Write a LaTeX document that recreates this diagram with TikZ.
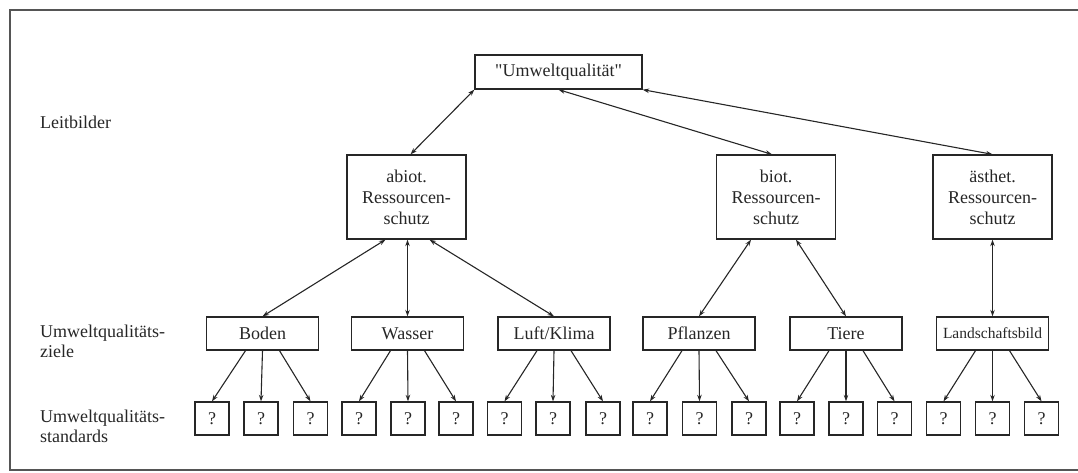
\documentclass[tikz,border=0pt]{standalone}
\usepackage{fontspec}
\setmainfont{Liberation Serif}[Ligatures=TeXOff]
\usetikzlibrary{arrows.meta}
\definecolor{ink}{HTML}{262626}
\definecolor{framegray}{HTML}{555555}

\begin{document}
\begin{tikzpicture}[x=1pt,y=-1pt,
  box/.style={draw=ink, line width=1.3pt, text=ink, inner sep=0pt, align=center,
              font=\fontsize{18}{21}\selectfont},
  topbox/.style={box, minimum width=167pt, minimum height=34pt},
  areabox/.style={box, minimum width=119pt, minimum height=84pt},
  goalbox/.style={box, minimum width=112pt, minimum height=33pt},
  qbox/.style={box, minimum width=34pt, minimum height=33pt},
  levellabel/.style={anchor=west, align=left, text=ink, inner sep=0pt,
                     font=\fontsize{18}{20}\selectfont},
  tip/.tip={Stealth[length=6.5pt,width=4.5pt]},
  link/.style={draw=ink, line width=1.1pt, tip-tip},
  down/.style={draw=ink, line width=1.1pt, -tip},
]
\useasboundingbox (0,0) rectangle (1078,472);

% outer frame (open on the right)
\draw[framegray, line width=1.2pt] (1078,10) -- (10,10) -- (10,470) -- (1078,470);

% row labels
\node[levellabel] (lbl1) at (40,122) {Leitbilder};
\node[levellabel] (lbl2) at (40,341) {Umweltqualitäts-\\ziele};
\node[levellabel] (lbl3) at (40,426) {Umweltqualitäts-\\standards};

% top level
\node[topbox] (uq) at (558.5,72) {"Umweltqualität"};

% protection areas
\node[areabox] (abiot) at (406.5,197) {abiot.\\Ressourcen-\\schutz};
\node[areabox] (biot)  at (776,197)   {biot.\\Ressourcen-\\schutz};
\node[areabox] (aesth) at (992.5,197) {ästhet.\\Ressourcen-\\schutz};

% quality goals
\node[goalbox] (boden)    at (262.5,333.5) {Boden};
\node[goalbox] (wasser)   at (407.5,333.5) {Wasser};
\node[goalbox] (luft)     at (554,333.5)   {Luft/Klima};
\node[goalbox] (pflanzen) at (699,333.5)   {Pflanzen};
\node[goalbox] (tiere)    at (846,333.5)   {Tiere};
\node[goalbox, font=\fontsize{15.5}{18}\selectfont] (land) at (992.5,333.5) {Landschaftsbild};

% quality standards (three per goal)
\foreach \g/\xa/\xb/\xc in {boden/212/261/310.5, wasser/359/408/456,
                            luft/504.5/553/603, pflanzen/650/699.5/749,
                            tiere/797/846/894.5, land/943.5/992.5/1041.5}{
  \node[qbox] (\g-l) at (\xa,418.5) {?};
  \node[qbox] (\g-m) at (\xb,418.5) {?};
  \node[qbox] (\g-r) at (\xc,418.5) {?};
  \draw[down] ([xshift=-17pt]\g.south) -- (\g-l.north);
  \draw[down] (\g.south) -- (\g-m.north);
  \draw[down] ([xshift=17pt]\g.south) -- (\g-r.north);
}

% links top level <-> areas
\draw[link] (uq.south west) -- ([xshift=4pt]abiot.north);
\draw[link] (uq.south) -- ([xshift=-4pt]biot.north);
\draw[link] (uq.south east) -- (aesth.north);

% links areas <-> goals
\draw[link] ([xshift=-21pt]abiot.south) -- (boden.north);
\draw[link] (wasser.north |- abiot.south) -- (wasser.north);
\draw[link] ([xshift=23pt]abiot.south) -- (luft.north);
\draw[link] ([xshift=-25pt]biot.south) -- (pflanzen.north);
\draw[link] ([xshift=20pt]biot.south) -- (tiere.north);
\draw[link] (land.north |- aesth.south) -- (land.north);
\end{tikzpicture}
\end{document}
